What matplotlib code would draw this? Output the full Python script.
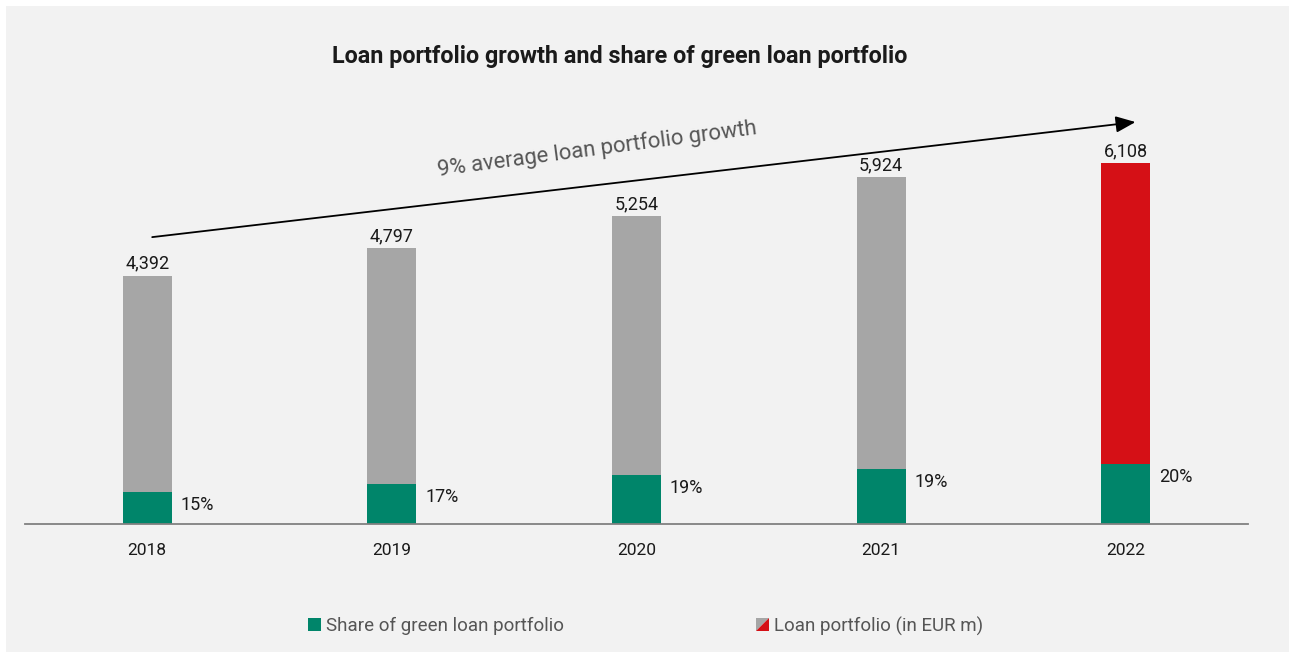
import matplotlib
matplotlib.use('Agg')
import matplotlib.pyplot as plt
from matplotlib.patches import Rectangle, Polygon
from matplotlib.legend_handler import HandlerBase

# data
years = ['2018', '2019', '2020', '2021', '2022']
loan_portfolio = [4392, 4797, 5254, 5924, 6108]   # EUR m
green_share = [15, 17, 19, 19, 20]                # %
growth_text = '9% average loan portfolio growth'

GREEN = '#00856A'
GRAY = '#A6A6A6'
RED = '#D51016'
BG = '#F2F2F2'

plt.rcParams['font.family'] = ['Roboto', 'DejaVu Sans']


class SquareHandle:
    def __init__(self, colors):
        self.colors = colors


class SquareHandler(HandlerBase):
    def create_artists(self, legend, orig_handle, xdescent, ydescent,
                       width, height, fontsize, trans):
        s = height * 1.0
        x0 = -xdescent + width - s
        y0 = -ydescent + (height - s) / 2
        if len(orig_handle.colors) == 1:
            p = Rectangle((x0, y0), s, s, facecolor=orig_handle.colors[0],
                          edgecolor='none', transform=trans)
            return [p]
        c1, c2 = orig_handle.colors
        p1 = Polygon([(x0, y0), (x0, y0 + s), (x0 + s, y0 + s)], closed=True,
                     facecolor=c1, edgecolor='none', transform=trans)
        p2 = Polygon([(x0, y0), (x0 + s, y0), (x0 + s, y0 + s)], closed=True,
                     facecolor=c2, edgecolor='none', transform=trans)
        return [p1, p2]


W, H = 1292, 655
fig = plt.figure(figsize=(W / 100, H / 100), dpi=100)
fig.patch.set_facecolor('white')
fig.add_artist(Rectangle((6 / W, 3 / H), (W - 9) / W, (H - 9) / H,
                         transform=fig.transFigure, facecolor=BG,
                         edgecolor='none', zorder=-10))

base_y = 524
px_per_unit = 0.0492
ymax = 9000
ax = fig.add_axes([25 / W, (H - base_y) / H, (1248 - 25) / W,
                   ymax * px_per_unit / H])
ax.set_facecolor('none')
ax.set_xlim(-0.5, 4.5)
ax.set_ylim(0, ymax)
for sp in ['top', 'right', 'left']:
    ax.spines[sp].set_visible(False)
ax.spines['bottom'].set_color('#808080')
ax.spines['bottom'].set_linewidth(1.3)
ax.set_yticks([])
ax.set_xticks(range(len(years)))
ax.set_xticklabels(years, fontsize=12.5, color='#1a1a1a')
ax.tick_params(axis='x', length=0, pad=14)

x = list(range(len(years)))
green_amount = [v * s / 100 for v, s in zip(loan_portfolio, green_share)]
top_colors = [GRAY] * (len(years) - 1) + [RED]

ax.bar(x, green_amount, width=0.2, color=GREEN, zorder=2)
ax.bar(x, loan_portfolio, width=0.2, bottom=green_amount, color=top_colors, zorder=2)

totals = [g + v for g, v in zip(green_amount, loan_portfolio)]
for xi, t, v in zip(x, totals, loan_portfolio):
    ax.annotate(f'{v:,}', (xi, t), xytext=(0, 3), textcoords='offset pixels',
                ha='center', va='bottom', fontsize=13, color='#1a1a1a')
for xi, g, s in zip(x, green_amount, green_share):
    ax.annotate(f'{s}%', (xi + 0.1, g), xytext=(9, -13), textcoords='offset pixels',
                ha='left', va='center', fontsize=13, color='#1a1a1a')

# growth arrow
start = (x[0] + 0.02, totals[0] + 780)
end = (x[-1] + 0.04, totals[-1] + 840)
ax.annotate('', xy=end, xytext=start, annotation_clip=False,
            arrowprops=dict(arrowstyle='-|>,head_length=1.2,head_width=0.5',
                            color='black', lw=1.3, shrinkA=0, shrinkB=0))
ax.text(1.84, 7620, growth_text, rotation=7.5, rotation_mode='anchor',
        ha='center', va='center', fontsize=15.8, color='#555555')

fig.text(620 / W, 1 - 57 / H, 'Loan portfolio growth and share of green loan portfolio',
         ha='center', va='center', fontsize=16.8, fontweight='bold', color='#1a1a1a')

handles = [SquareHandle([GREEN]), SquareHandle([GRAY, RED])]
leg = fig.legend(handles, ['Share of green loan portfolio', 'Loan portfolio (in EUR m)'],
                 handler_map={SquareHandle: SquareHandler()},
                 loc='center', bbox_to_anchor=(645 / W, 1 - 626 / H), ncol=2,
                 frameon=False, fontsize=13.5, handlelength=0.75, handletextpad=0.25,
                 columnspacing=10.2, labelcolor='#555555')

fig.savefig('out.png', dpi=100, facecolor='white')
